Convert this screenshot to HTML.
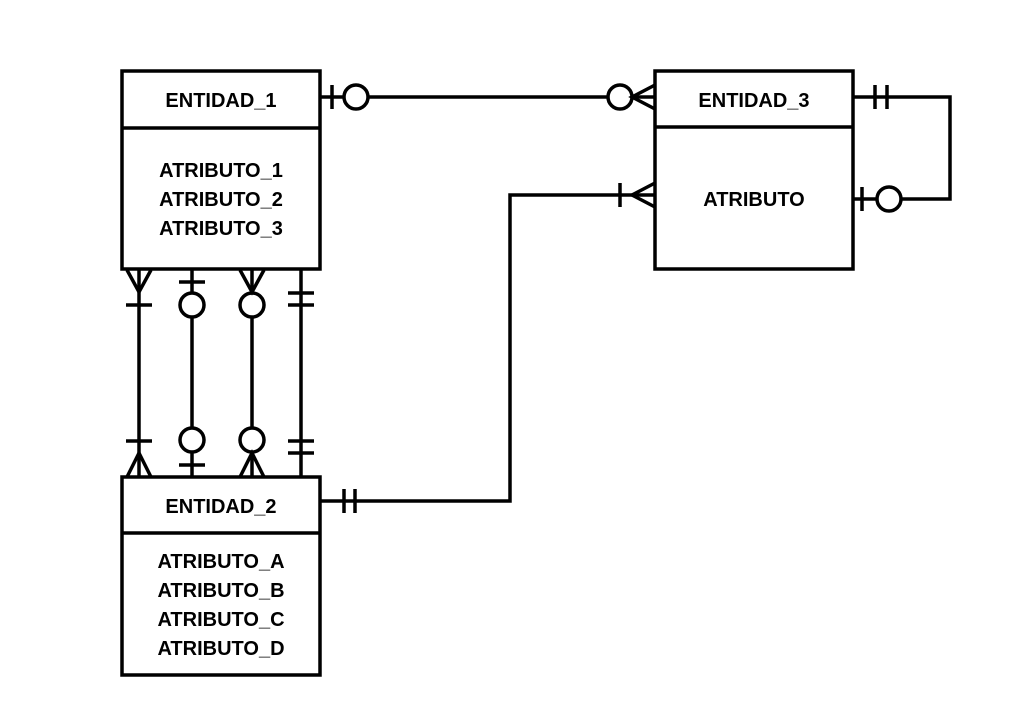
<!DOCTYPE html>
<html><head><style>body{margin:0;background:#fff}svg{display:block}text{font-family:"Liberation Sans",sans-serif;font-weight:bold;font-size:20px;text-anchor:middle}</style></head><body>
<svg width="1015" height="702" viewBox="0 0 1015 702" fill="none" stroke="#000" stroke-width="3.5">
<rect x="122" y="71" width="198" height="198"/><line x1="122" y1="128" x2="320" y2="128"/>
<rect x="122" y="477" width="198" height="198"/><line x1="122" y1="533" x2="320" y2="533"/>
<rect x="655" y="71" width="198" height="198"/><line x1="655" y1="127" x2="853" y2="127"/>
<g fill="#000" stroke="none">
<text x="221" y="107">ENTIDAD_1</text>
<text x="221" y="177">ATRIBUTO_1</text><text x="221" y="206">ATRIBUTO_2</text><text x="221" y="235">ATRIBUTO_3</text>
<text x="221" y="513">ENTIDAD_2</text>
<text x="221" y="568">ATRIBUTO_A</text><text x="221" y="597">ATRIBUTO_B</text><text x="221" y="626">ATRIBUTO_C</text><text x="221" y="655">ATRIBUTO_D</text>
<text x="754" y="107">ENTIDAD_3</text><text x="754" y="206">ATRIBUTO</text>
</g>
<line x1="139" y1="269" x2="139" y2="477"/>
<line x1="192" y1="269" x2="192" y2="293"/><line x1="192" y1="317" x2="192" y2="428"/><line x1="192" y1="452" x2="192" y2="477"/>
<line x1="252" y1="269" x2="252" y2="293"/><line x1="252" y1="317" x2="252" y2="428"/><line x1="252" y1="452" x2="252" y2="477"/>
<line x1="301" y1="269" x2="301" y2="477"/>
<polyline points="127,270 139,292 151,270"/><line x1="126" y1="305" x2="152" y2="305"/>
<line x1="126" y1="441" x2="152" y2="441"/><polyline points="127,477 139,453 151,477"/>
<line x1="179" y1="282" x2="205" y2="282"/><circle cx="192" cy="305" r="12"/>
<circle cx="192" cy="440" r="12"/><line x1="179" y1="465" x2="205" y2="465"/>
<polyline points="240,270 252,292 264,270"/><circle cx="252" cy="305" r="12"/>
<circle cx="252" cy="440" r="12"/><polyline points="240,477 252,453 264,477"/>
<line x1="288" y1="293" x2="314" y2="293"/><line x1="288" y1="305" x2="314" y2="305"/>
<line x1="288" y1="441" x2="314" y2="441"/><line x1="288" y1="453" x2="314" y2="453"/>
<line x1="320" y1="97" x2="344" y2="97"/><line x1="368" y1="97" x2="608" y2="97"/><line x1="632" y1="97" x2="655" y2="97"/>
<line x1="332" y1="85" x2="332" y2="109"/><circle cx="356" cy="97" r="12"/>
<circle cx="620" cy="97" r="12"/><polyline points="655,85 632,97 655,109"/>
<polyline points="320,501 510,501 510,195 655,195"/>
<line x1="344" y1="489" x2="344" y2="513"/><line x1="355" y1="489" x2="355" y2="513"/>
<line x1="620" y1="183" x2="620" y2="207"/><polyline points="655,183 632,195 655,207"/>
<polyline points="853,97 950,97 950,199 901,199"/><line x1="853" y1="199" x2="877" y2="199"/>
<line x1="875" y1="85" x2="875" y2="109"/><line x1="887" y1="85" x2="887" y2="109"/>
<line x1="862" y1="187" x2="862" y2="211"/><circle cx="889" cy="199" r="12"/>
</svg></body></html>
